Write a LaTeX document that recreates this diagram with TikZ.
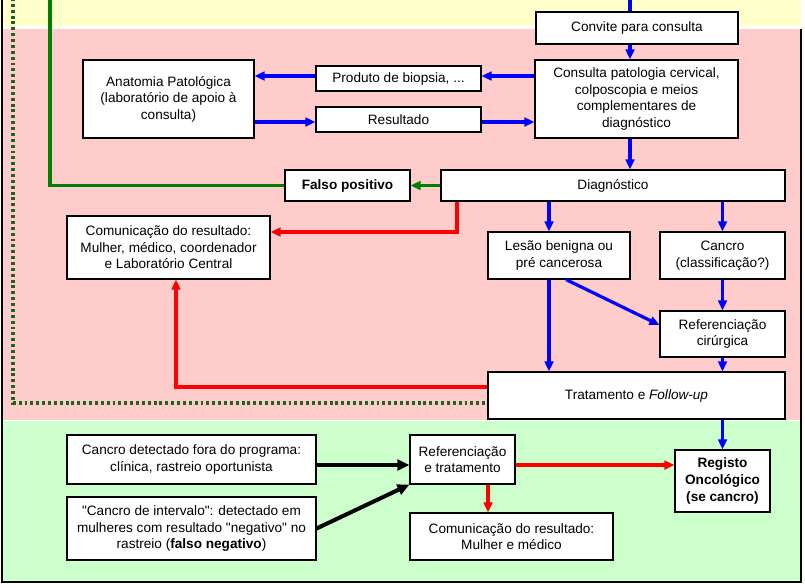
\documentclass[tikz,border=0pt]{standalone}
\usepackage{fontspec}
\setmainfont{Liberation Sans}
\usetikzlibrary{arrows.meta}
\definecolor{bandY}{RGB}{255,255,204}
\definecolor{bandP}{RGB}{255,204,204}
\definecolor{bandG}{RGB}{204,255,204}
\definecolor{fpgreen}{RGB}{0,128,0}
\definecolor{dotgreen}{RGB}{30,100,30}

\begin{document}
\begin{tikzpicture}[x=0.75pt, y=-0.75pt, >={Triangle[length=7.5pt,width=6.5pt]},
    box/.style={draw, line width=0.8pt, fill=white, align=center, inner sep=1pt,
      font=\fontsize{10.2}{12.4}\selectfont},
    blu/.style={blue, line width=2.4pt, ->},
    rd/.style={red, line width=2.4pt, ->},
    blk/.style={black, line width=3pt, -{Triangle[length=9pt,width=8pt]}},
    grn/.style={fpgreen, line width=2.4pt}]
  \useasboundingbox (0,0) rectangle (805,587);
  % bands
  \fill[bandY] (0,0) rectangle (801,26);
  \fill[bandP] (2,29) rectangle (801,420);
  \fill[bandG] (2,421) rectangle (801,582);
  \draw[line width=1pt] (2,0) -- (2,582) -- (801,582) -- (801,29);

  % nodes
  \node[box, minimum width=151.5pt, minimum height=24pt] (conv) at (637,28) {Convite para consulta};
  \node[box, minimum width=128.25pt, minimum height=58.5pt] (anat) at (168.5,99)
    {Anatomia Patológica\\(laboratório de apoio à\\consulta)};
  \node[box, minimum width=123.75pt, minimum height=18.75pt] (prod) at (398.5,78.5) {Produto de biopsia, ...};
  \node[box, minimum width=123.75pt, minimum height=18.75pt] (resu) at (398.5,119.5) {Resultado};
  \node[box, minimum width=152.25pt, minimum height=58.5pt] (cons) at (636.5,99)
    {Consulta patologia cervical,\\colposcopia e meios\\complementares de\\diagnóstico};
  \node[box, minimum width=258pt, minimum height=23.25pt] (diag) at (613,185.5) {Diagnóstico};
  \node[box, minimum width=93.75pt, minimum height=23.25pt, font=\fontsize{10.2}{12.4}\selectfont\bfseries]
    (falso) at (347.5,185.5) {Falso positivo};
  \node[box, minimum width=152.25pt, minimum height=47.25pt] (comA) at (168.5,247.5)
    {Comunicação do resultado:\\Mulher, médico, coordenador\\e Laboratório Central};
  \node[box, minimum width=106.5pt, minimum height=35.25pt] (lesao) at (559,255.5)
    {Lesão benigna ou\\pré cancerosa};
  \node[box, minimum width=93.75pt, minimum height=35.25pt] (cancro) at (722.5,255.5)
    {Cancro\\(classificação?)};
  \node[box, minimum width=93.75pt, minimum height=34.5pt] (refc) at (722.5,334)
    {Referenciação\\cirúrgica};
  \node[box, minimum width=222.75pt, minimum height=35.25pt] (trat) at (636.5,395.5)
    {Tratamento e \textit{Follow-up}};
  \node[box, minimum width=71.25pt, minimum height=46.5pt, font=\fontsize{10.2}{12.4}\selectfont\bfseries]
    (reg) at (722.5,481) {Registo\\Oncológico\\(se cancro)};
  \node[box, minimum width=186.75pt, minimum height=36.75pt] (fora) at (191.5,459.5)
    {Cancro detectado fora do programa:\\clínica, rastreio oportunista};
  \node[box, minimum width=186.75pt, minimum height=47.25pt] (interv) at (191.5,528.5)
    {\textquotedbl Cancro de intervalo\textquotedbl: detectado em\\mulheres com resultado \textquotedbl negativo\textquotedbl\ no\\rastreio (\textbf{falso negativo})};
  \node[box, minimum width=78.75pt, minimum height=36.75pt] (reft) at (462.5,459.5)
    {Referenciação\\e tratamento};
  \node[box, minimum width=152.25pt, minimum height=35.25pt] (comB) at (511.5,536.5)
    {Comunicação do resultado:\\Mulher e médico};

  % helper coordinates
  \coordinate (topB) at (630,-2);
  \coordinate (grnTop) at (50,-2);
  \coordinate (dotTop) at (13,-2);
  \coordinate (yProd) at (0,76);
  \coordinate (yResu) at (0,122);
  \coordinate (rA) at (457,232);
  \coordinate (xLes) at (549,0);
  \coordinate (xDiag) at (566,0);
  \coordinate (yRefc) at (0,325);
  \coordinate (yRed) at (0,387);
  \coordinate (yDot) at (0,403);
  \coordinate (xCom) at (176,0);
  \coordinate (yRow) at (0,465);
  \coordinate (xCB) at (488,0);

  % top
  \draw[blue, line width=2.4pt] (topB) -- (topB |- conv.north);
  \draw[blu] (conv.south -| topB) -- (cons.north -| topB);
  \draw[blu] (cons.west |- yProd) -- (prod.east |- yProd);
  \draw[blu] (prod.west |- yProd) -- (anat.east |- yProd);
  \draw[blu] (anat.east |- yResu) -- (resu.west |- yResu);
  \draw[blu] (resu.east |- yResu) -- (cons.west |- yResu);
  \draw[blu] (cons.south -| topB) -- (diag.north -| topB);
  % falso positivo
  \draw[grn, ->] (diag.west) -- (falso.east);
  \draw[grn] (falso.west) -| (grnTop);
  \draw[dotgreen, line width=2.4pt, dash pattern=on 2.2pt off 2.2pt] (dotTop) |- (trat.west |- yDot);
  % diagnostico
  \draw[rd] (diag.south -| rA) -- (rA) -- (rA -| comA.east);
  \draw[blu] (diag.south -| xLes) -- (lesao.north -| xLes);
  \draw[blu] (diag.south -| cancro) -- (cancro.north);
  \draw[blu] (lesao.south -| xDiag) -- (refc.west |- yRefc);
  \draw[blu] (cancro.south) -- (refc.north);
  \draw[blu] (lesao.south -| xLes) -- (trat.north -| xLes);
  \draw[blu] (refc.south) -- (trat.north -| refc);
  \draw[rd] (trat.west |- yRed) -| (comA.south -| xCom);
  \draw[blu] (trat.south -| reg) -- (reg.north);
  % fora do programa
  \draw[blk] (fora.east |- yRow) -- (reft.west |- yRow);
  \draw[blk] (interv.east) -- (reft.south west);
  \draw[rd] (reft.east |- yRow) -- (reg.west |- yRow);
  \draw[rd] (reft.south -| xCB) -- (comB.north -| xCB);
\end{tikzpicture}
\end{document}
